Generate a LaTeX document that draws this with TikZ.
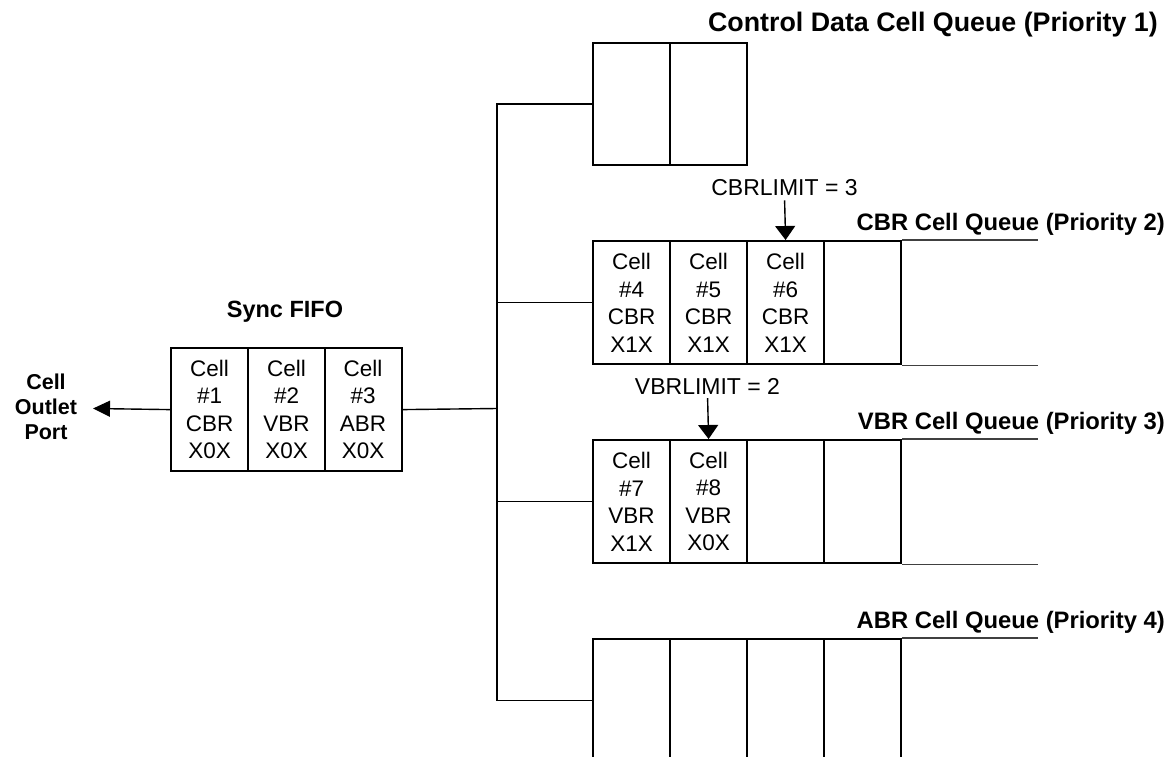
\documentclass[tikz,border=0pt]{standalone}
\usepackage{fontspec}
\setmainfont{Liberation Sans}
\usetikzlibrary{arrows.meta}
\begin{document}
\begin{tikzpicture}[x=1pt,y=-1pt,
  cellbox/.style={draw,line width=2.2pt,minimum width=77pt,minimum height=123pt,inner sep=0pt,anchor=north west,align=center,font=\fontsize{22.5}{27.5}\selectfont},
  ctlbox/.style={cellbox,minimum height=122pt},
  conn/.style={line width=1.4pt},
  ext/.style={line width=1.1pt,black!75},
  arr/.style={line width=1.4pt,-{Triangle[length=14pt,width=20pt]}},
  title/.style={font=\bfseries\fontsize{23.8}{28}\selectfont,anchor=base east,inner sep=0pt},
  limtext/.style={font=\fontsize{23}{27}\selectfont,inner sep=0pt}]
\clip (0,0) rectangle (1169,757);
\fill[white] (0,0) rectangle (1169,757);

% Sync FIFO
\node[font=\bfseries\fontsize{23.5}{28}\selectfont] (synclbl) at (285,312) {Sync FIFO};
\node[cellbox] (f1) at (170,347) {Cell\\\#1\\CBR\\X0X};
\node[cellbox] (f2) at (247,347) {Cell\\\#2\\VBR\\X0X};
\node[cellbox] (f3) at (323.5,347) {Cell\\\#3\\ABR\\X0X};

% Outlet
\node[font=\bfseries\fontsize{21.5}{25}\selectfont,align=center] (outlet) at (46,407) {Cell\\Outlet\\Port};
\coordinate (outtip) at (93,408.5);
\draw[line width=1.4pt,-{Triangle[length=17pt,width=16pt]}] (f1.west) -- (outtip);

% Control queue
\node[title,font=\bfseries\fontsize{26.8}{30}\selectfont] (ctltitle) at (1158,32) {Control Data Cell Queue (Priority 1)};
\node[ctlbox] (c1) at (592,42) {};
\node[ctlbox] (c2) at (669,42) {};

% CBR queue
\node[title] (cbrtitle) at (1165,230) {CBR Cell Queue (Priority 2)};
\node[cellbox] (b1) at (592,240) {Cell\\\#4\\CBR\\X1X};
\node[cellbox] (b2) at (669,240) {Cell\\\#5\\CBR\\X1X};
\node[cellbox] (b3) at (746,240) {Cell\\\#6\\CBR\\X1X};
\node[cellbox] (b4) at (823,240) {};
\draw[ext] (b4.north east) -- ++(136,0);
\draw[ext] (b4.south east) -- ++(136,0);
\node[limtext] (cbrlim) at (784.5,188) {CBRLIMIT = 3};
\draw[arr,shorten <=4pt] (cbrlim.south) -- (b3.north);

% VBR queue
\node[title] (vbrtitle) at (1165,429) {VBR Cell Queue (Priority 3)};
\node[cellbox] (v1) at (592,439) {Cell\\\#7\\VBR\\X1X};
\node[cellbox] (v2) at (669,439) {Cell\\\#8\\VBR\\X0X};
\node[cellbox] (v3) at (746,439) {};
\node[cellbox] (v4) at (823,439) {};
\draw[ext] (v4.north east) -- ++(136,0);
\draw[ext] (v4.south east) -- ++(136,0);
\node[limtext] (vbrlim) at (707.5,386) {VBRLIMIT = 2};
\draw[arr,shorten <=4pt] (vbrlim.south) -- (v2.north);

% ABR queue
\node[title] (abrtitle) at (1165,628) {ABR Cell Queue (Priority 4)};
\node[cellbox] (a1) at (592,638) {};
\node[cellbox] (a2) at (669,638) {};
\node[cellbox] (a3) at (746,638) {};
\node[cellbox] (a4) at (823,638) {};
\draw[ext] (a4.north east) -- ++(136,0);

% Bus
\coordinate (bus) at (497,408.5);
\draw[conn] (f3.east) -- (bus);
\draw[conn] (c1.west) -| (bus);
\draw[conn] (a1.west) -| (bus);
\draw[conn] (b1.west) -- (b1.west -| bus);
\draw[conn] (v1.west) -- (v1.west -| bus);
\end{tikzpicture}
\end{document}
